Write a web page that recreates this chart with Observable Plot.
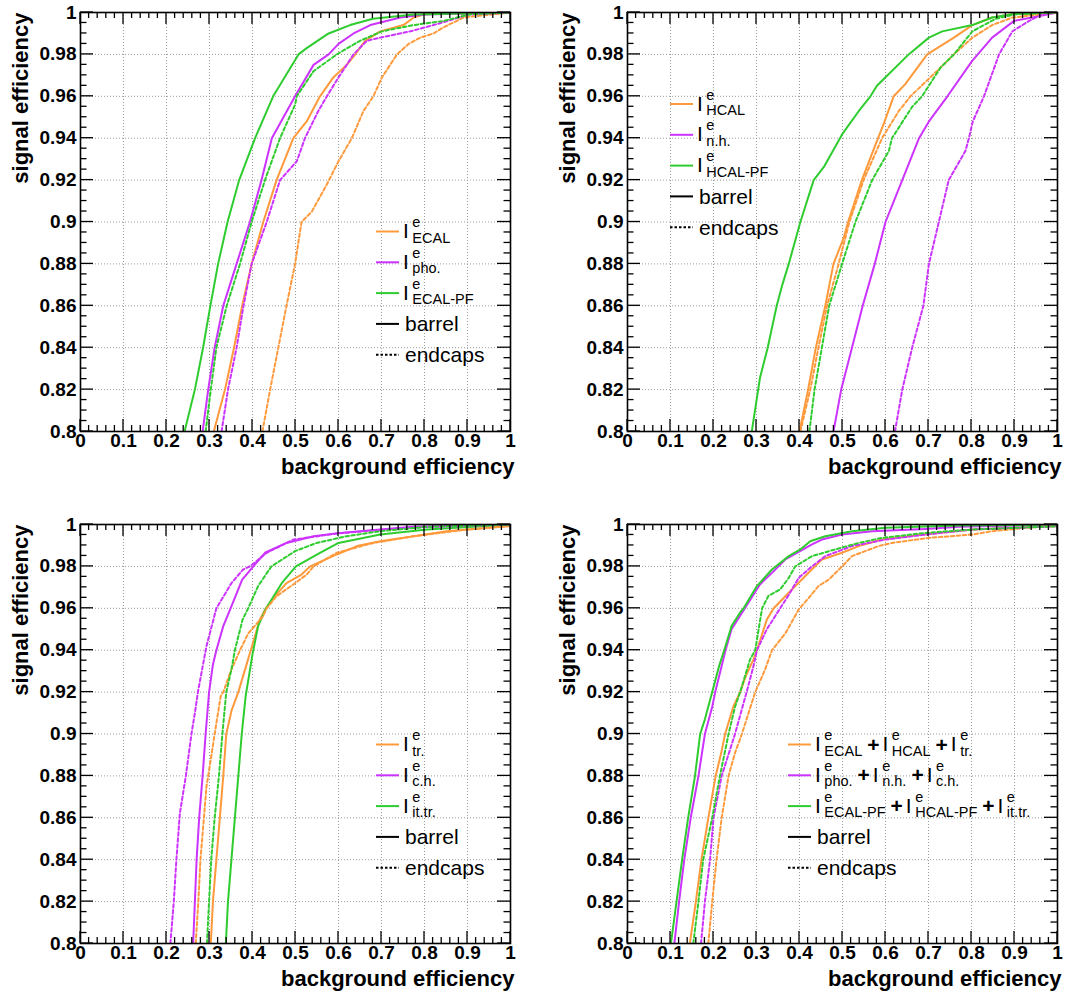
<!DOCTYPE html>
<html><head><meta charset="utf-8">
<script src="https://cdn.jsdelivr.net/npm/d3@7"></script>
<script src="https://cdn.jsdelivr.net/npm/@observablehq/plot@0.6"></script>
<style>
body{margin:0;background:#fff;}
#wrap{position:relative;width:1071px;height:999px;overflow:hidden;background:#fff;}
.panel{position:absolute;}
</style>
</head><body><div id="wrap"></div>
<script>
// ---------- tick labels ----------
const xTickLabels = [0, 0.1, 0.2, 0.3, 0.4, 0.5, 0.6, 0.7, 0.8, 0.9, 1];
const yTickLabels = [0.8, 0.82, 0.84, 0.86, 0.88, 0.9, 0.92, 0.94, 0.96, 0.98, 1];
const xTitle = "background efficiency";
const yTitle = "signal efficiency";

// ---------- panel 1 : ECAL-type isolation ----------
const p1_ecal_barrel = [[0.31,0.80],[0.336,0.82],[0.357,0.84],[0.376,0.86],[0.398,0.88],[0.425,0.90],[0.456,0.92],[0.495,0.94],[0.526,0.948],[0.557,0.96],[0.588,0.969],[0.619,0.975],[0.639,0.98],[0.662,0.9865],[0.697,0.991],[0.751,0.994],[0.775,0.9976],[0.80,0.9992],[0.9,0.9996],[1,1]];
const p1_pho_barrel = [[0.284,0.80],[0.297,0.82],[0.312,0.84],[0.332,0.86],[0.363,0.88],[0.394,0.90],[0.421,0.92],[0.445,0.94],[0.499,0.96],[0.542,0.975],[0.577,0.98],[0.60,0.985],[0.635,0.99],[0.674,0.994],[0.744,0.9976],[0.798,0.999],[1,1]];
const p1_ecalpf_barrel = [[0.242,0.80],[0.266,0.82],[0.285,0.84],[0.302,0.86],[0.32,0.88],[0.342,0.90],[0.369,0.92],[0.406,0.94],[0.448,0.96],[0.507,0.98],[0.526,0.983],[0.577,0.99],[0.627,0.994],[0.68,0.997],[0.775,0.999],[1,1]];
const p1_ecal_endcaps = [[0.423,0.80],[0.441,0.82],[0.46,0.84],[0.479,0.86],[0.499,0.88],[0.514,0.90],[0.538,0.905],[0.573,0.918],[0.60,0.929],[0.631,0.94],[0.658,0.953],[0.681,0.96],[0.701,0.969],[0.736,0.98],[0.763,0.985],[0.79,0.988],[0.821,0.990],[0.845,0.993],[0.891,0.9976],[0.907,0.998],[1,1]];
const p1_pho_endcaps = [[0.328,0.80],[0.343,0.82],[0.363,0.84],[0.379,0.86],[0.398,0.88],[0.433,0.90],[0.464,0.92],[0.503,0.929],[0.522,0.94],[0.553,0.953],[0.573,0.96],[0.60,0.969],[0.635,0.98],[0.666,0.9865],[0.697,0.988],[0.767,0.991],[0.821,0.994],[0.868,0.9968],[0.90,0.999],[0.953,0.9995],[1,1]];
const p1_ecalpf_endcaps = [[0.291,0.80],[0.303,0.82],[0.316,0.84],[0.34,0.86],[0.371,0.88],[0.398,0.90],[0.429,0.92],[0.464,0.94],[0.499,0.956],[0.503,0.96],[0.542,0.972],[0.596,0.98],[0.65,0.9865],[0.701,0.991],[0.775,0.994],[0.845,0.996],[0.876,0.9976],[0.907,0.9992],[1,1]];

// ---------- panel 2 : HCAL-type isolation ----------
const p2_hcal_barrel = [[0.40,0.80],[0.42,0.82],[0.438,0.84],[0.46,0.86],[0.479,0.88],[0.503,0.8925],[0.513,0.90],[0.545,0.92],[0.577,0.937],[0.596,0.947],[0.619,0.96],[0.646,0.9658],[0.697,0.98],[0.759,0.988],[0.802,0.994],[0.848,0.9976],[0.895,0.9992],[1,1]];
const p2_nh_barrel = [[0.479,0.80],[0.497,0.82],[0.522,0.84],[0.547,0.86],[0.575,0.88],[0.60,0.90],[0.639,0.92],[0.678,0.94],[0.701,0.948],[0.744,0.96],[0.802,0.977],[0.848,0.988],[0.899,0.996],[0.95,0.998],[1,1]];
const p2_hcalpf_barrel = [[0.289,0.80],[0.308,0.8255],[0.326,0.84],[0.347,0.86],[0.36,0.87],[0.375,0.88],[0.402,0.90],[0.433,0.92],[0.458,0.9267],[0.499,0.9418],[0.538,0.953],[0.565,0.96],[0.58,0.965],[0.654,0.98],[0.701,0.988],[0.732,0.991],[0.802,0.994],[0.848,0.9976],[0.895,0.9992],[1,1]];
const p2_hcal_endcaps = [[0.402,0.80],[0.425,0.82],[0.444,0.84],[0.464,0.86],[0.491,0.88],[0.516,0.90],[0.549,0.92],[0.592,0.94],[0.631,0.953],[0.658,0.96],[0.728,0.9737],[0.759,0.98],[0.802,0.988],[0.848,0.994],[0.895,0.9976],[1,1]];
const p2_nh_endcaps = [[0.622,0.80],[0.639,0.82],[0.662,0.84],[0.688,0.86],[0.701,0.88],[0.724,0.90],[0.747,0.92],[0.786,0.934],[0.794,0.94],[0.803,0.948],[0.829,0.96],[0.864,0.98],[0.895,0.991],[0.934,0.996],[0.965,0.9992],[1,1]];
const p2_hcalpf_endcaps = [[0.423,0.80],[0.435,0.82],[0.452,0.84],[0.469,0.86],[0.49,0.874],[0.499,0.88],[0.53,0.90],[0.569,0.92],[0.608,0.934],[0.615,0.94],[0.662,0.955],[0.685,0.96],[0.728,0.9737],[0.759,0.98],[0.802,0.991],[0.856,0.997],[0.903,0.9992],[1,1]];

// ---------- panel 3 : track-type isolation ----------
const p3_tr_barrel = [[0.303,0.80],[0.308,0.82],[0.316,0.84],[0.324,0.86],[0.332,0.88],[0.339,0.90],[0.351,0.911],[0.367,0.92],[0.385,0.9324],[0.396,0.94],[0.417,0.9546],[0.431,0.96],[0.452,0.9658],[0.479,0.972],[0.514,0.9761],[0.534,0.98],[0.596,0.9857],[0.643,0.9897],[0.697,0.992],[0.775,0.9944],[0.852,0.9968],[0.99,0.9992],[1,1]];
const p3_ch_barrel = [[0.262,0.80],[0.266,0.82],[0.27,0.84],[0.276,0.86],[0.284,0.88],[0.291,0.90],[0.299,0.92],[0.308,0.9332],[0.316,0.94],[0.332,0.9515],[0.349,0.96],[0.376,0.9737],[0.402,0.98],[0.429,0.9865],[0.479,0.9912],[0.542,0.9944],[0.604,0.996],[0.697,0.9976],[0.775,0.9989],[1,1]];
const p3_ittr_barrel = [[0.338,0.80],[0.343,0.82],[0.351,0.84],[0.359,0.86],[0.367,0.88],[0.375,0.90],[0.384,0.918],[0.40,0.938],[0.413,0.9515],[0.43,0.9594],[0.468,0.972],[0.501,0.98],[0.557,0.9865],[0.60,0.9912],[0.697,0.9952],[0.806,0.9976],[1,1]];
const p3_tr_endcaps = [[0.268,0.80],[0.274,0.82],[0.279,0.84],[0.287,0.86],[0.293,0.875],[0.297,0.88],[0.312,0.90],[0.326,0.918],[0.332,0.92],[0.351,0.9308],[0.371,0.94],[0.39,0.948],[0.424,0.956],[0.433,0.96],[0.456,0.9658],[0.495,0.9714],[0.526,0.9761],[0.542,0.98],[0.596,0.9865],[0.681,0.9912],[0.775,0.9944],[0.899,0.9976],[1,0.9992]];
const p3_ch_endcaps = [[0.209,0.80],[0.217,0.82],[0.223,0.84],[0.231,0.862],[0.245,0.88],[0.258,0.90],[0.266,0.91],[0.273,0.92],[0.293,0.942],[0.316,0.96],[0.351,0.972],[0.378,0.9785],[0.394,0.98],[0.433,0.9865],[0.495,0.9928],[0.596,0.9957],[0.751,0.9984],[1,1]];
const p3_ittr_endcaps = [[0.294,0.80],[0.299,0.82],[0.304,0.84],[0.312,0.86],[0.322,0.88],[0.33,0.90],[0.339,0.92],[0.351,0.9308],[0.359,0.94],[0.377,0.9546],[0.39,0.96],[0.413,0.9706],[0.444,0.98],[0.499,0.9873],[0.549,0.9912],[0.619,0.9944],[0.697,0.9968],[0.806,0.9989],[1,1]];

// ---------- panel 4 : combined isolation ----------
const p4_det_barrel = [[0.145,0.80],[0.159,0.82],[0.172,0.84],[0.188,0.86],[0.205,0.88],[0.218,0.891],[0.227,0.90],[0.246,0.913],[0.262,0.92],[0.275,0.9276],[0.293,0.9356],[0.301,0.94],[0.324,0.9546],[0.34,0.96],[0.375,0.9674],[0.421,0.977],[0.452,0.9833],[0.499,0.9865],[0.538,0.9897],[0.592,0.9928],[0.678,0.995],[0.802,0.9976],[1,0.9992]];
const p4_pf_barrel = [[0.109,0.80],[0.12,0.82],[0.132,0.84],[0.147,0.86],[0.165,0.88],[0.18,0.90],[0.197,0.913],[0.204,0.92],[0.228,0.94],[0.242,0.95],[0.273,0.96],[0.308,0.9714],[0.336,0.9769],[0.367,0.9833],[0.394,0.9865],[0.429,0.9905],[0.452,0.9928],[0.499,0.9952],[0.569,0.9968],[0.693,0.9979],[0.771,0.9989],[1,1]];
const p4_pfit_barrel = [[0.101,0.80],[0.114,0.82],[0.127,0.84],[0.141,0.86],[0.157,0.88],[0.169,0.90],[0.18,0.907],[0.197,0.92],[0.213,0.9324],[0.225,0.94],[0.242,0.9515],[0.262,0.958],[0.27,0.96],[0.301,0.9706],[0.336,0.9785],[0.375,0.9849],[0.402,0.9881],[0.425,0.992],[0.46,0.9944],[0.522,0.9968],[0.60,0.9984],[0.771,0.9995],[1,1]];
const p4_det_endcaps = [[0.188,0.80],[0.197,0.82],[0.207,0.84],[0.219,0.86],[0.235,0.88],[0.25,0.891],[0.266,0.90],[0.297,0.92],[0.32,0.9308],[0.336,0.94],[0.367,0.948],[0.398,0.9594],[0.425,0.9658],[0.444,0.9706],[0.468,0.9737],[0.499,0.98],[0.522,0.9849],[0.584,0.9897],[0.615,0.9912],[0.70,0.9936],[0.802,0.9952],[0.848,0.9968],[0.926,0.9984],[1,0.9995]];
const p4_pf_endcaps = [[0.171,0.80],[0.18,0.82],[0.192,0.84],[0.2,0.86],[0.219,0.88],[0.25,0.90],[0.277,0.92],[0.293,0.9324],[0.301,0.94],[0.324,0.95],[0.355,0.96],[0.378,0.9674],[0.398,0.9745],[0.429,0.98],[0.46,0.9849],[0.522,0.9897],[0.60,0.9928],[0.693,0.9952],[0.802,0.9976],[1,0.9992]];
const p4_pfit_endcaps = [[0.153,0.80],[0.165,0.82],[0.176,0.84],[0.197,0.86],[0.215,0.88],[0.235,0.90],[0.25,0.913],[0.262,0.92],[0.285,0.9356],[0.297,0.94],[0.305,0.95],[0.313,0.96],[0.328,0.966],[0.355,0.969],[0.375,0.9745],[0.39,0.98],[0.429,0.9849],[0.483,0.9881],[0.538,0.9912],[0.592,0.9936],[0.693,0.996],[0.802,0.9976],[1,0.9992]];

// ---------- styles ----------
const FONT = "'Liberation Sans', Arial, Helvetica, sans-serif";
const ORANGE = "#ff9a3c", MAGENTA = "#cc33ff", GREEN = "#2fcc2f";
const DASH = "3.5,2.5";

const I = (sub) => ({b: "I", sup: "e", sub});
const PLUS = {op: "+"};

const panels = [
  {left: 0, top: 0, mr: 26,
   series: [[p1_ecal_barrel, ORANGE, false], [p1_pho_barrel, MAGENTA, false], [p1_ecalpf_barrel, GREEN, false],
            [p1_ecal_endcaps, ORANGE, true], [p1_pho_endcaps, MAGENTA, true], [p1_ecalpf_endcaps, GREEN, true]],
   legend: {x: 376, y: 231.5, items: [[ORANGE, false, [I("ECAL")]], [MAGENTA, false, [I("pho.")]], [GREEN, false, [I("ECAL-PF")]]]}},
  {left: 547, top: 0, mr: 14,
   series: [[p2_hcal_barrel, ORANGE, false], [p2_nh_barrel, MAGENTA, false], [p2_hcalpf_barrel, GREEN, false],
            [p2_hcal_endcaps, ORANGE, true], [p2_nh_endcaps, MAGENTA, true], [p2_hcalpf_endcaps, GREEN, true]],
   legend: {x: 123, y: 104, items: [[ORANGE, false, [I("HCAL")]], [MAGENTA, false, [I("n.h.")]], [GREEN, false, [I("HCAL-PF")]]]}},
  {left: 0, top: 512, mr: 26,
   series: [[p3_tr_barrel, ORANGE, false], [p3_ch_barrel, MAGENTA, false], [p3_ittr_barrel, GREEN, false],
            [p3_tr_endcaps, ORANGE, true], [p3_ch_endcaps, MAGENTA, true], [p3_ittr_endcaps, GREEN, true]],
   legend: {x: 376, y: 232.5, items: [[ORANGE, false, [I("tr.")]], [MAGENTA, false, [I("c.h.")]], [GREEN, false, [I("it.tr.")]]]}},
  {left: 547, top: 512, mr: 14,
   series: [[p4_det_barrel, ORANGE, false], [p4_pf_barrel, MAGENTA, false], [p4_pfit_barrel, GREEN, false],
            [p4_det_endcaps, ORANGE, true], [p4_pf_endcaps, MAGENTA, true], [p4_pfit_endcaps, GREEN, true]],
   legend: {x: 241, y: 232.5, items: [[ORANGE, false, [I("ECAL"), PLUS, I("HCAL"), PLUS, I("tr.")]],
                                      [MAGENTA, false, [I("pho."), PLUS, I("n.h."), PLUS, I("c.h.")]],
                                      [GREEN, false, [I("ECAL-PF"), PLUS, I("HCAL-PF"), PLUS, I("it.tr.")]]]}}
];

const ML = 80, MT = 12, MB = 69, PW = 430, H = 500;
const xMinor = d3.range(0, 51).map(i => i / 50);
const yMinor = d3.range(0, 41).map(i => 0.8 + i * 0.005);
const isMajorX = v => Math.abs(v * 10 - Math.round(v * 10)) < 1e-6;
const isMajorY = v => Math.abs(v * 50 - Math.round(v * 50)) < 1e-6;

const wrap = document.getElementById("wrap");

// inward ROOT-style ticks on all four sides, placed with the plot's own scales
function drawTicks(svg) {
  const X = svg.scale("x"), Y = svg.scale("y");
  const [xl, xr] = X.range, [yb, yt] = Y.range;
  const g = d3.select(svg).append("g").attr("stroke", "black").attr("stroke-width", 1.3);
  yMinor.forEach(v => {
    const y = Y.apply(v), len = isMajorY(v) ? 13 : 6.5;
    g.append("line").attr("x1", xl).attr("x2", xl + len).attr("y1", y).attr("y2", y);
    g.append("line").attr("x1", xr).attr("x2", xr - len).attr("y1", y).attr("y2", y);
  });
  xMinor.forEach(v => {
    const x = X.apply(v), len = isMajorX(v) ? 12 : 6;
    g.append("line").attr("x1", x).attr("x2", x).attr("y1", yb).attr("y2", yb - len);
    g.append("line").attr("x1", x).attr("x2", x).attr("y1", yt).attr("y2", yt + len);
  });
}

function drawLegend(svg, lg) {
  const g = d3.select(svg).append("g").attr("font-family", FONT).attr("fill", "black").attr("text-anchor", "start");
  const items = lg.items.concat([["black", false, [{t: "barrel"}]], ["black", true, [{t: "endcaps"}]]]);
  const dy = 30.8;
  items.forEach(([color, dashed, parts], i) => {
    const L = lg.y + i * dy;
    g.append("line").attr("x1", lg.x).attr("x2", lg.x + 23).attr("y1", L).attr("y2", L)
      .attr("stroke", color).attr("stroke-width", 2).attr("stroke-dasharray", dashed ? "2.5,2" : null);
    let cx = lg.x + 27;
    parts.forEach(p => {
      if (p.t) {
        const t = g.append("text").attr("x", cx + 2).attr("y", L + 7.5).attr("font-size", 21).text(p.t);
        cx += t.node().getComputedTextLength();
      } else if (p.op) {
        cx += 5;
        const t = g.append("text").attr("x", cx).attr("y", L + 7).attr("font-size", 21).attr("font-weight", "bold").text(p.op);
        cx += t.node().getComputedTextLength() + 3;
      } else {
        const t = g.append("text").attr("x", cx).attr("y", L + 6.5).attr("font-size", 21).text(p.b);
        cx += t.node().getComputedTextLength() + 3.5;
        const s1 = g.append("text").attr("x", cx).attr("y", L - 4.5).attr("font-size", 14.5).text(p.sup);
        const s2 = g.append("text").attr("x", cx).attr("y", L + 11).attr("font-size", 14.5).text(p.sub);
        cx += Math.max(s1.node().getComputedTextLength(), s2.node().getComputedTextLength());
      }
    });
  });
}

panels.forEach(pn => {
  const W = ML + PW + pn.mr;
  const marks = [
    Plot.gridX(xTickLabels.slice(1, -1), {stroke: "#9a9a9a", strokeOpacity: 1, strokeWidth: 1, strokeDasharray: "1,2"}),
    Plot.gridY(yTickLabels.slice(1, -1), {stroke: "#9a9a9a", strokeOpacity: 1, strokeWidth: 1, strokeDasharray: "1,2"}),
    ...pn.series.map(([data, color, dashed]) =>
      Plot.line(data, {x: d => d[0], y: d => d[1], stroke: color, strokeWidth: 2,
                       strokeDasharray: dashed ? DASH : null, clip: true})),
    Plot.frame({stroke: "black", strokeWidth: 1.6}),
    Plot.axisX(xTickLabels, {tickSize: 0, tickPadding: 2, fontSize: 19, fontWeight: "bold", label: null,
                             tickFormat: d => String(+d.toFixed(2))}),
    Plot.axisY(yTickLabels, {tickSize: 0, tickPadding: 4, fontSize: 19, fontWeight: "bold", label: null,
                             tickFormat: d => String(+d.toFixed(2))}),
    Plot.text([xTitle], {text: d => d, frameAnchor: "bottom-right", textAnchor: "end", lineAnchor: "middle",
                         dx: 4, dy: 35, fontSize: 22, fontWeight: "bold"}),
    Plot.text([yTitle], {text: d => d, frameAnchor: "top-left", textAnchor: "end", lineAnchor: "middle",
                         rotate: -90, dx: -60, dy: 0, fontSize: 22, fontWeight: "bold"})
  ];
  const svg = Plot.plot({
    width: W, height: H,
    marginLeft: ML, marginRight: pn.mr, marginTop: MT, marginBottom: MB,
    x: {domain: [0, 1]}, y: {domain: [0.8, 1]},
    style: {fontFamily: FONT, background: "white", color: "black", overflow: "visible"},
    marks
  });
  const div = document.createElement("div");
  div.className = "panel";
  div.style.left = pn.left + "px";
  div.style.top = pn.top + "px";
  div.appendChild(svg);
  wrap.appendChild(div);
  drawTicks(svg);
  drawLegend(svg, pn.legend);
});
</script>
</body></html>
